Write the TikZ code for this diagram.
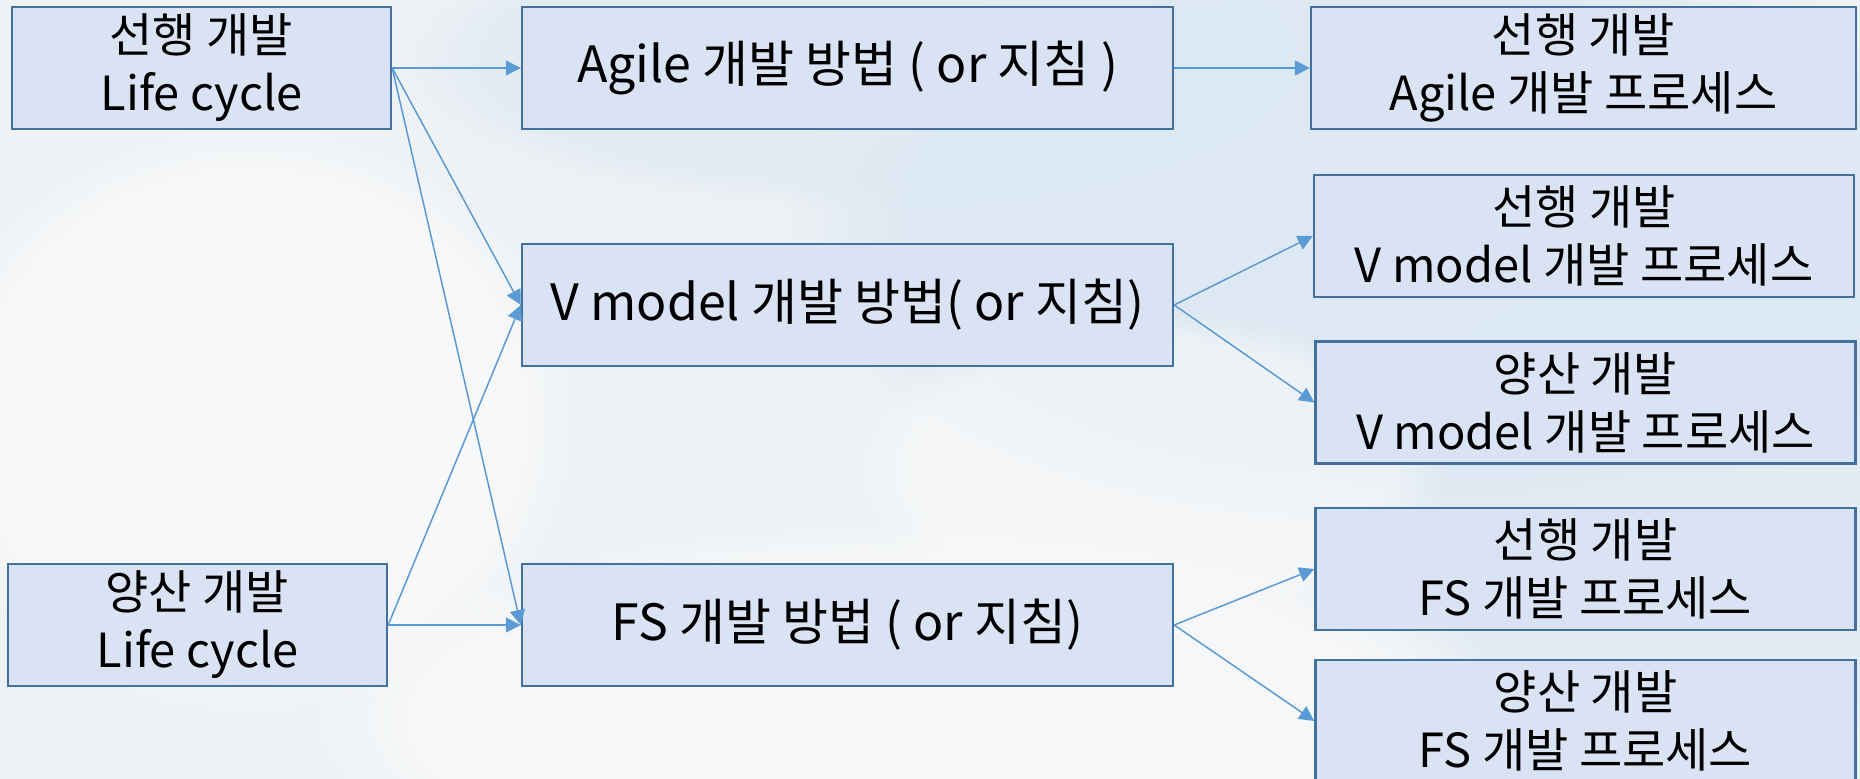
\documentclass[tikz,border=0pt]{standalone}
\usepackage{fontspec}
\setmainfont{Noto Sans CJK KR}
\usetikzlibrary{arrows.meta,fadings}

\definecolor{boxfill}{HTML}{DAE3F3}
\definecolor{boxline}{HTML}{41719C}
\definecolor{link}{HTML}{5B9BD5}
\definecolor{skybase}{HTML}{EEF2F5}
\definecolor{skyblue}{HTML}{DCE8F2}
\definecolor{cloud}{HTML}{F8F9FA}

\begin{document}
\begin{tikzpicture}[x=0.5pt,y=-0.5pt,
  box/.style={draw=boxline, line width=1.2pt, fill=boxfill, inner sep=0pt,
    align=center, minimum height=61pt, font=\fontsize{23.5}{29}\selectfont},
  method/.style={box, minimum width=325.5pt, font=\fontsize{25}{30}\selectfont},
  cycle/.style={box, minimum width=189.5pt},
  process/.style={box, minimum width=270pt},
  conn/.style={draw=link, line width=0.75pt, -{Triangle[length=7.5pt,width=7.5pt]}},
  haze/.style={path fading=circle with fuzzy edge 20 percent}
]
% sky background
\useasboundingbox (0,0) rectangle (1860,779);
\fill[skybase] (0,0) rectangle (1860,779);
\fill[skyblue, haze, opacity=0.9] (1400,230) ellipse (620 and 300);
\fill[skyblue, haze, opacity=0.6] (850,60) ellipse (450 and 150);
\fill[skyblue, haze, opacity=0.6] (1700,520) ellipse (350 and 250);
\fill[cloud, haze, opacity=0.9] (250,420) ellipse (330 and 300);
\fill[cloud, haze, opacity=0.8] (900,720) ellipse (600 and 200);
\fill[cloud, haze, opacity=0.6] (1150,470) ellipse (300 and 160);

% life cycles
\node[cycle] (lcA) at (201.5,68) {선행 개발\\Life cycle};
\node[cycle] (lcB) at (197.5,625) {양산 개발\\Life cycle};

% development methods
\node[method] (agile) at (847.5,68) {Agile 개발 방법 ( or 지침 )};
\node[method] (vm) at (847.5,305) {V model 개발 방법( or 지침)};
\node[method] (fs) at (847.5,625) {FS 개발 방법 ( or 지침)};

% processes
\node[process, minimum width=272.5pt] (pAgile) at (1583.5,68) {선행 개발\\Agile 개발 프로세스};
\node[process] (pVa) at (1584,236) {선행 개발\\V model 개발 프로세스};
\node[process] (pVb) at (1585.5,402.5) {양산 개발\\V model 개발 프로세스};
\node[process] (pFa) at (1585.5,569) {선행 개발\\FS 개발 프로세스};
\node[process] (pFb) at (1585.5,721) {양산 개발\\FS 개발 프로세스};

% connectors
\draw[conn] (lcA.east) -- (agile.west);
\draw[conn] (lcA.east) -- (vm.west);
\draw[conn] (lcA.east) -- (fs.west);
\draw[conn] (lcB.east) -- (vm.west);
\draw[conn] (lcB.east) -- (fs.west);
\draw[conn] (agile.east) -- (pAgile.west);
\draw[conn] (vm.east) -- (pVa.west);
\draw[conn] (vm.east) -- (pVb.west);
\draw[conn] (fs.east) -- (pFa.west);
\draw[conn] (fs.east) -- (pFb.west);
\end{tikzpicture}
\end{document}
